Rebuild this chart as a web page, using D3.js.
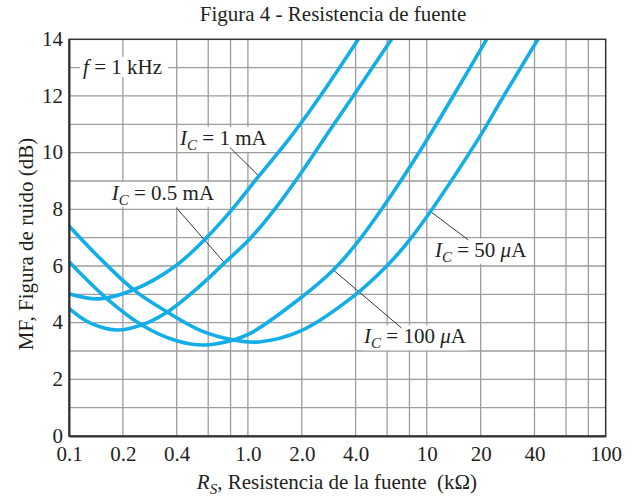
<!DOCTYPE html>
<html><head><meta charset="utf-8">
<script src="https://cdn.jsdelivr.net/npm/d3@7"></script>
<style>
html,body{margin:0;padding:0;background:#fff;}
svg{display:block;font-family:"Liberation Serif","Times New Roman",serif;}
</style></head>
<body><svg id="chart" width="637" height="500"></svg>
<script>
// ---- data ----
const titleText = "Figura 4 - Resistencia de fuente";
const xTickValues = [0.1, 0.2, 0.4, 1.0, 2.0, 4.0, 10, 20, 40, 100];
const xTickLabels = ["0.1", "0.2", "0.4", "1.0", "2.0", "4.0", "10", "20", "40", "100"];
const xGridValues = [0.2, 0.4, 0.6, 0.8, 1, 2, 4, 6, 8, 10, 20, 40, 60, 80];
const yTickValues = [0, 2, 4, 6, 8, 10, 12, 14];
const yGridValues = [1, 2, 3, 4, 5, 6, 7, 8, 9, 10, 11, 12, 13];

const ic1mA_x  = [0.1, 0.146, 0.23, 0.39, 0.575, 0.794, 1.12, 1.65, 2.0, 2.8, 4.14];
const ic1mA_y  = [5.02, 4.84, 5.16, 5.98, 6.94, 7.91, 9.08, 10.38, 11.08, 12.39, 14.0];
const ic05mA_x = [0.1, 0.13, 0.185, 0.255, 0.351, 0.54, 0.738, 1.03, 1.41, 2.0, 2.82, 4.0, 6.35];
const ic05mA_y = [4.5, 4.0, 3.74, 3.92, 4.36, 5.3, 6.1, 6.97, 8.0, 9.32, 10.72, 12.12, 14.0];
const ic100uA_x = [0.1, 0.162, 0.255, 0.4, 0.564, 0.83, 1.03, 1.96, 3.0, 4.0, 5.7, 9.14, 14.0, 21.6];
const ic100uA_y = [6.15, 4.86, 3.92, 3.36, 3.21, 3.39, 3.62, 4.86, 5.86, 6.75, 8.08, 10.05, 11.98, 14.0];
const ic50uA_x = [0.1, 0.15, 0.231, 0.351, 0.55, 0.83, 1.15, 1.96, 3.87, 5.93, 8.2, 19.0, 26.8, 41.8];
const ic50uA_y = [7.41, 6.25, 5.15, 4.39, 3.71, 3.39, 3.32, 3.7, 4.92, 5.98, 7.0, 10.39, 11.98, 14.0];

const seriesNames = ["1 mA", "0.5 mA", "100 μA", "50 μA"];
// label anchors and leader lines (data coordinates)
const labelMain = ["1 mA", "0.5 mA", "100 ", "50 "];
const labelUnitItalic = ["", "", "μ", "μ"];
const labelUnitTail = ["", "", "A", "A"];
const labelX = [0.4175, 0.1733, 4.46, 11.11];
const labelY = [10.27, 8.33, 3.27, 6.33];
const leaderX1 = [0.794, 0.40, 3.0, 10.5];
const leaderY1 = [10.18, 8.04, 5.86, 7.92];
const leaderX2 = [1.14, 0.738, 7.22, 17.06];
const leaderY2 = [9.2, 6.12, 3.81, 6.92];
const freqLabelX = 0.1198, freqLabelY = 12.78;

// ---- layout ----
const W = 637, H = 500;
const M = {left: 69, right: 31.3, top: 39.3, bottom: 64};
const svg = d3.select("#chart");
const x = d3.scaleLog().domain([0.1, 100]).range([M.left, W - M.right]);
const y = d3.scaleLinear().domain([0, 14]).range([H - M.bottom, M.top]);
const textCol = "#231f20";
const curveCol = "#13aee8";
const gridCol = "#9d9d9d";

// title
svg.append("text").attr("x", 333).attr("y", 21).attr("text-anchor", "middle")
  .attr("font-size", 21).attr("fill", textCol).text(titleText);

// grid
const g = svg.append("g");
g.selectAll("line.vx").data(xGridValues).join("line")
  .attr("x1", d => x(d)).attr("x2", d => x(d))
  .attr("y1", y(0)).attr("y2", y(14))
  .attr("stroke", gridCol).attr("stroke-width", 1.3);
g.selectAll("line.hy").data(yGridValues).join("line")
  .attr("x1", x(0.1)).attr("x2", x(100))
  .attr("y1", d => y(d)).attr("y2", d => y(d))
  .attr("stroke", gridCol).attr("stroke-width", 1.3);

// label layer (white boxes go over the grid)
const labLayer = svg.append("g");
function addBoxed(textSel, padL, padR, padT, padB) {
  const bb = textSel.node().getBBox();
  labLayer.insert("rect", () => textSel.node())
    .attr("x", bb.x - padL).attr("y", bb.y - padT)
    .attr("width", bb.width + padL + padR).attr("height", bb.height + padT + padB)
    .attr("fill", "#fff");
}

// f = 1 kHz
const ft = labLayer.append("text").attr("x", x(freqLabelX)).attr("y", y(freqLabelY))
  .attr("font-size", 21).attr("fill", textCol);
ft.append("tspan").attr("font-style", "italic").text("f");
ft.append("tspan").text(" = 1 kHz");
addBoxed(ft, 3, 6, -2, -2);

// curve labels
labelMain.forEach((m, i) => {
  const t = labLayer.append("text").attr("x", x(labelX[i])).attr("y", y(labelY[i]))
    .attr("font-size", 21).attr("fill", textCol);
  t.append("tspan").attr("font-style", "italic").text("I");
  t.append("tspan").attr("font-style", "italic").attr("font-size", 15).attr("dy", 5).text("C");
  t.append("tspan").attr("dy", -5).text(" = " + m);
  if (labelUnitItalic[i]) {
    t.append("tspan").attr("font-style", "italic").text(labelUnitItalic[i]);
    t.append("tspan").text(labelUnitTail[i]);
  }
  addBoxed(t, 1, 1, -1, -1);
});

// leaders
svg.append("g").selectAll("line").data(leaderX1).join("line")
  .attr("x1", (d, i) => x(leaderX1[i])).attr("y1", (d, i) => y(leaderY1[i]))
  .attr("x2", (d, i) => x(leaderX2[i])).attr("y2", (d, i) => y(leaderY2[i]))
  .attr("stroke", textCol).attr("stroke-width", 0.9);

// curves
svg.append("clipPath").attr("id", "clip").append("rect")
  .attr("x", x(0.1)).attr("y", y(14)).attr("width", x(100) - x(0.1)).attr("height", y(0) - y(14));
const seriesX = [ic1mA_x, ic05mA_x, ic100uA_x, ic50uA_x];
const seriesY = [ic1mA_y, ic05mA_y, ic100uA_y, ic50uA_y];
const line = d3.line().x(d => x(d[0])).y(d => y(d[1])).curve(d3.curveCatmullRom.alpha(0.5));
svg.append("g").attr("clip-path", "url(#clip)").selectAll("path")
  .data(seriesNames).join("path")
  .attr("d", (n, i) => line(seriesX[i].map((v, k) => [v, seriesY[i][k]])))
  .attr("fill", "none").attr("stroke", curveCol).attr("stroke-width", 3.6);

// frame
svg.append("rect").attr("x", x(0.1)).attr("y", y(14))
  .attr("width", x(100) - x(0.1)).attr("height", y(0) - y(14))
  .attr("fill", "none").attr("stroke", "#333").attr("stroke-width", 1.5);

// axes
const xAxis = d3.axisBottom(x).tickValues(xTickValues)
  .tickFormat((d, i) => xTickLabels[i]).tickSize(0).tickPadding(0);
const xa = svg.append("g").attr("transform", `translate(0,${y(0)})`).call(xAxis);
xa.select(".domain").attr("stroke", "#333").attr("stroke-width", 2);
xa.selectAll("text").attr("font-size", 21).attr("fill", textCol)
  .attr("font-family", "Liberation Serif").attr("dy", null).attr("y", 25);

const yAxis = d3.axisLeft(y).tickValues(yTickValues).tickSize(0).tickPadding(6);
const ya = svg.append("g").attr("transform", `translate(${x(0.1)},0)`).call(yAxis);
ya.select(".domain").attr("stroke", "#333").attr("stroke-width", 2);
ya.selectAll("text").attr("font-size", 21).attr("fill", textCol)
  .attr("font-family", "Liberation Serif").attr("dy", "0.3em");

// axis titles
const xt = svg.append("text").attr("x", 337).attr("y", 489).attr("text-anchor", "middle")
  .attr("font-size", 21).attr("fill", textCol).style("white-space", "pre");
xt.append("tspan").attr("font-style", "italic").text("R");
xt.append("tspan").attr("font-style", "italic").attr("font-size", 15).attr("dy", 5).text("S");
xt.append("tspan").attr("dy", -5).text(", Resistencia de la fuente  (kΩ)");

svg.append("text").attr("transform", "translate(33,244) rotate(-90)")
  .attr("text-anchor", "middle").attr("font-size", 21).attr("fill", textCol)
  .text("MF, Figura de ruido (dB)");
</script></body></html>
